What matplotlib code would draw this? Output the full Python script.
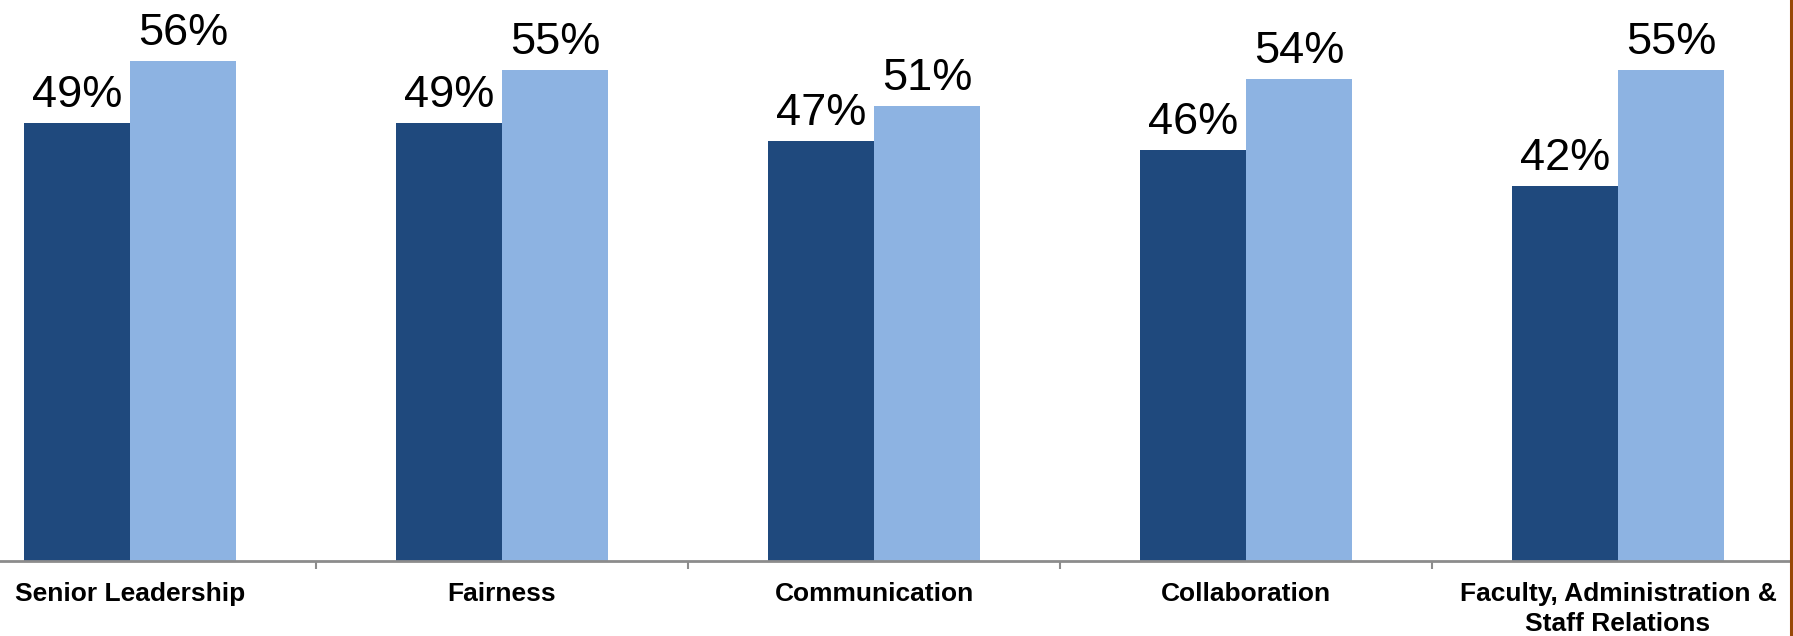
import matplotlib.pyplot as plt
import numpy as np
from matplotlib.lines import Line2D

categories = ['Senior Leadership', 'Fairness', 'Communication', 'Collaboration',
              'Faculty, Administration &\nStaff Relations']
series_a = [49, 49, 47, 46, 42]
series_b = [56, 55, 51, 54, 55]

dark = '#1F497D'
light = '#8DB3E2'

plt.rcParams['font.family'] = ['Liberation Sans', 'DejaVu Sans']

W, H = 1793, 636
fig = plt.figure(figsize=(W / 100, H / 100), dpi=100)
# axes fills the picture down to the x axis line; the chart is cropped at the left
ax = fig.add_axes([0, (H - 561) / H, 1789 / W, 561 / H])

x = np.arange(len(categories))
bw = 0.285
b1 = ax.bar(x - bw / 2, series_a, bw, color=dark)
b2 = ax.bar(x + bw / 2, series_b, bw, color=light)
for bars in (b1, b2):
    ax.bar_label(bars, labels=[f'{v}%' for v in bars.datavalues],
                 padding=5, fontsize=32.5)

ax.set_xlim(-130 / 372, (1789 - 130) / 372)
ax.set_ylim(0, 561 / 8.93)

ax.set_xticks(x)
ax.set_xticklabels(categories, fontsize=19, fontweight='bold', linespacing=1.35)
ax.tick_params(axis='x', which='major', length=0, pad=15)
ax.set_xticks(x[:-1] + 0.5, minor=True)
ax.tick_params(axis='x', which='minor', length=6, width=1.5, color='#8c8c8c')
ax.set_yticks([])

for s in ['top', 'left', 'right']:
    ax.spines[s].set_visible(False)
ax.spines['bottom'].set_color('#8c8c8c')
ax.spines['bottom'].set_linewidth(2)

# brown frame line at the right edge
fig.add_artist(Line2D([1790.5 / W, 1790.5 / W], [0, 1], transform=fig.transFigure,
                      color='#984807', linewidth=2.2))

fig.savefig('out.png', dpi=100)
